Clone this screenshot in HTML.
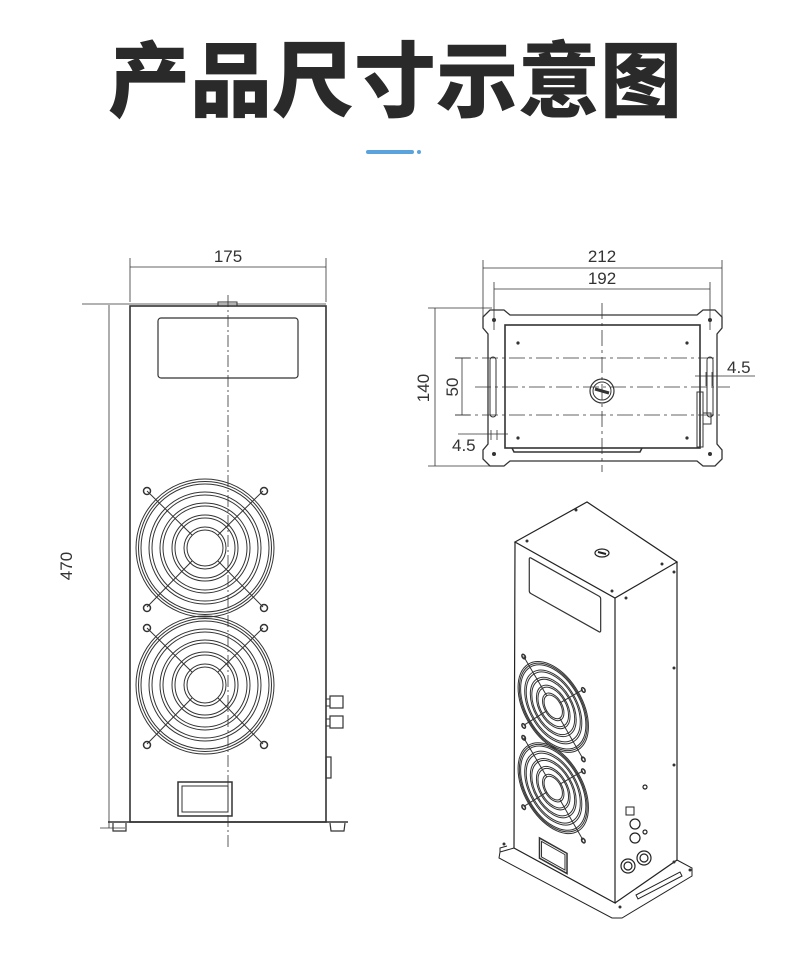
<!DOCTYPE html>
<html><head><meta charset="utf-8"><style>
html,body{margin:0;padding:0;background:#fff;width:790px;height:966px;overflow:hidden}
.t{position:absolute;left:0;top:28px;width:790px;text-align:center;font-family:"Liberation Sans","Noto Sans CJK SC",sans-serif;font-weight:900;font-size:82px;color:#2a2a2a;letter-spacing:0px;line-height:110px}
svg{position:absolute;left:0;top:0}
</style></head><body>
<div class="t">产品尺寸示意图</div>
<svg width="790" height="966" viewBox="0 0 790 966" font-family="Liberation Sans, sans-serif" fill="none" stroke="#333">
<rect x="366" y="150" width="48" height="4" rx="2" fill="#5aa3dc" stroke="none"/>
<circle cx="419" cy="152" r="2" fill="#5aa3dc" stroke="none"/>

<!-- FRONT VIEW -->
<g stroke-width="1">
<line x1="130" y1="258" x2="130" y2="302" stroke-width="0.8"/>
<line x1="326" y1="258" x2="326" y2="302" stroke-width="0.8"/>
<line x1="130" y1="267" x2="326" y2="267" stroke-width="0.8"/>
<line x1="82" y1="304" x2="326" y2="304" stroke-width="0.8"/>
<line x1="109" y1="305" x2="109" y2="828" stroke-width="0.8"/>
<line x1="100" y1="828" x2="125" y2="828" stroke-width="0.8"/>
</g>
<text x="228" y="262" font-size="17" fill="#333" stroke="none" text-anchor="middle">175</text>
<text transform="translate(72,566) rotate(-90)" font-size="17" fill="#333" stroke="none" text-anchor="middle">470</text>
<rect x="130" y="306" width="196" height="516" stroke-width="1.6"/>
<rect x="218" y="302" width="19" height="4" stroke-width="1"/>
<line x1="228" y1="295" x2="228" y2="848" stroke-width="0.8" stroke-dasharray="12,3,2,3"/>
<g id="ff">
<rect x="158" y="318" width="140" height="60" rx="3" stroke-width="1.2" vector-effect="non-scaling-stroke"/>
<g id="fan" stroke-width="1">
<circle vector-effect="non-scaling-stroke" cx="205" cy="548" r="69"/><circle vector-effect="non-scaling-stroke" cx="205" cy="548" r="66.5"/><circle vector-effect="non-scaling-stroke" cx="205" cy="548" r="64"/>
<circle vector-effect="non-scaling-stroke" cx="205" cy="548" r="56"/><circle vector-effect="non-scaling-stroke" cx="205" cy="548" r="53"/>
<circle vector-effect="non-scaling-stroke" cx="205" cy="548" r="45"/><circle vector-effect="non-scaling-stroke" cx="205" cy="548" r="42"/>
<circle vector-effect="non-scaling-stroke" cx="205" cy="548" r="33"/><circle vector-effect="non-scaling-stroke" cx="205" cy="548" r="30"/>
<circle vector-effect="non-scaling-stroke" cx="205" cy="548" r="21"/><circle vector-effect="non-scaling-stroke" cx="205" cy="548" r="18"/>
<line vector-effect="non-scaling-stroke" x1="147" y1="491" x2="192" y2="535"/><line vector-effect="non-scaling-stroke" x1="263" y1="491" x2="218" y2="535"/>
<line vector-effect="non-scaling-stroke" x1="147" y1="607" x2="192" y2="561"/><line vector-effect="non-scaling-stroke" x1="263" y1="607" x2="218" y2="561"/>
<circle vector-effect="non-scaling-stroke" cx="147" cy="491" r="3.5" stroke-width="1.5"/><circle vector-effect="non-scaling-stroke" cx="264" cy="491" r="3.5" stroke-width="1.5"/>
<circle vector-effect="non-scaling-stroke" cx="147" cy="608" r="3.5" stroke-width="1.5"/><circle vector-effect="non-scaling-stroke" cx="264" cy="608" r="3.5" stroke-width="1.5"/>
</g>
<use href="#fan" transform="translate(0,137)"/>
<rect x="178" y="782" width="54" height="34" stroke-width="1.5" vector-effect="non-scaling-stroke"/>
<rect x="182" y="786" width="46" height="26" stroke-width="1" vector-effect="non-scaling-stroke"/>
</g>
<rect x="330" y="696" width="13" height="12" stroke-width="1.2"/><rect x="326" y="699" width="4" height="7"/>
<rect x="330" y="716" width="13" height="12" stroke-width="1.2"/><rect x="326" y="719" width="4" height="7"/>
<rect x="326" y="757" width="5" height="21" stroke-width="1.2"/>
<line x1="108" y1="822" x2="348" y2="822" stroke-width="1.6"/>
<path d="M113 823 L113 831 L126 831 L126 823 M330 823 L331 831 L344 831 L345 823" stroke-width="1.2"/>

<!-- TOP VIEW -->
<g stroke-width="0.8">
<line x1="483" y1="260" x2="483" y2="318"/><line x1="722" y1="260" x2="722" y2="318"/>
<line x1="483" y1="268" x2="722" y2="268"/>
<line x1="494" y1="282" x2="494" y2="330"/><line x1="710" y1="282" x2="710" y2="330"/>
<line x1="494" y1="289" x2="710" y2="289"/>
<line x1="428" y1="308" x2="492" y2="308"/><line x1="428" y1="466" x2="492" y2="466"/>
<line x1="435" y1="308" x2="435" y2="466"/>
<line x1="455" y1="358" x2="470" y2="358"/><line x1="455" y1="415" x2="470" y2="415"/>
<line x1="462" y1="358" x2="462" y2="415"/>
<line x1="458" y1="434" x2="508" y2="434"/><line x1="491" y1="430" x2="491" y2="440"/><line x1="497" y1="430" x2="497" y2="440"/>
<line x1="695" y1="376" x2="755" y2="376"/><line x1="706" y1="372" x2="706" y2="386"/><line x1="712" y1="372" x2="712" y2="386"/>
</g>
<text x="602" y="262" font-size="17" fill="#333" stroke="none" text-anchor="middle">212</text>
<text x="602" y="284" font-size="17" fill="#333" stroke="none" text-anchor="middle">192</text>
<text transform="translate(429,388) rotate(-90)" font-size="17" fill="#333" stroke="none" text-anchor="middle">140</text>
<text transform="translate(458,387) rotate(-90)" font-size="17" fill="#333" stroke="none" text-anchor="middle">50</text>
<text x="727" y="373" font-size="17" fill="#333" stroke="none">4.5</text>
<text x="452" y="451" font-size="17" fill="#333" stroke="none">4.5</text>
<path d="M490 310 L504 310 L510 315 L697 315 L703 310 L715 310 L722 317 L722 328 L717 334 L717 444 L722 450 L722 459 L715 466 L703 466 L697 461 L510 461 L504 466 L490 466 L483 459 L483 450 L488 444 L488 334 L483 328 L483 317 Z" stroke-width="1.3"/>
<rect x="505" y="325" width="195" height="123" stroke-width="1.6"/>
<rect x="697" y="392" width="6" height="55" stroke-width="1"/>
<rect x="703" y="413" width="8" height="11" stroke-width="1"/>
<path d="M512 448 L514 452 L640 452 L642 448" stroke-width="1.5"/>
<g stroke-width="0.8" stroke-dasharray="16,4,3,4">
<line x1="455" y1="358" x2="715" y2="358"/><line x1="475" y1="387" x2="730" y2="387"/><line x1="455" y1="415" x2="720" y2="415"/>
<line x1="602" y1="303" x2="602" y2="472"/>
</g>
<rect x="490" y="357" width="6" height="60" rx="3" stroke-width="1"/>
<rect x="707" y="357" width="6" height="60" rx="3" stroke-width="1"/>
<circle cx="602" cy="391" r="12" stroke-width="1.2"/><circle cx="602" cy="391" r="9" stroke-width="1"/>
<line x1="595" y1="389" x2="609" y2="393" stroke-width="3"/>
<g fill="#333" stroke="none">
<circle cx="494" cy="320" r="2"/><circle cx="710" cy="320" r="2"/><circle cx="494" cy="454" r="2"/><circle cx="710" cy="454" r="2"/>
<circle cx="518" cy="343" r="1.6"/><circle cx="687" cy="343" r="1.6"/><circle cx="518" cy="438" r="1.6"/><circle cx="687" cy="438" r="1.6"/>
</g>

<!-- ISO VIEW -->
<g stroke-width="1.2" stroke="#222">
<path d="M515 542 L587 502 L677 562 L615 598 Z"/>
<path d="M515 542 L514 848 L615 903 L615 598"/>
<path d="M677 562 L677 860 L615 903"/>
<path d="M514 848 L500 852 L499 858 L612 918 L622 918 L692 876 L692 868 L677 860" stroke-width="1"/>
<path d="M500 852 L500 848 L507 846" stroke-width="1"/>
<ellipse cx="602" cy="553" rx="7" ry="4" stroke-width="1.2"/>
<line x1="598" y1="552" x2="606" y2="554" stroke-width="2"/>
<path d="M636 895 L680 872 L682 876 L638 899 Z" stroke-width="1"/>
<rect x="626" y="807" width="8" height="8" stroke-width="1"/>
</g>
<use href="#ff" transform="matrix(0.51,0.2856,0,0.593,448.7,323.4)"/>
<g fill="#333" stroke="none">
<circle cx="576" cy="510" r="1.5"/><circle cx="527" cy="541" r="1.5"/><circle cx="662" cy="564" r="1.5"/><circle cx="612" cy="591" r="1.5"/>
<circle cx="674" cy="572" r="1.5"/><circle cx="626" cy="598" r="1.5"/><circle cx="674" cy="668" r="1.5"/><circle cx="674" cy="765" r="1.5"/><circle cx="674" cy="862" r="1.5"/>
<circle cx="620" cy="907" r="1.5"/><circle cx="504" cy="844" r="1.5"/><circle cx="690" cy="870" r="1.5"/>
</g>
<g stroke="#222" stroke-width="1.2">
<circle cx="645" cy="787" r="2"/>
<circle cx="635" cy="824" r="5"/><circle cx="635" cy="838" r="5"/><circle cx="645" cy="832" r="2"/>
<circle cx="628" cy="866" r="7"/><circle cx="628" cy="866" r="4"/>
<circle cx="644" cy="858" r="7"/><circle cx="644" cy="858" r="4"/>
</g>
</svg>
</body></html>
